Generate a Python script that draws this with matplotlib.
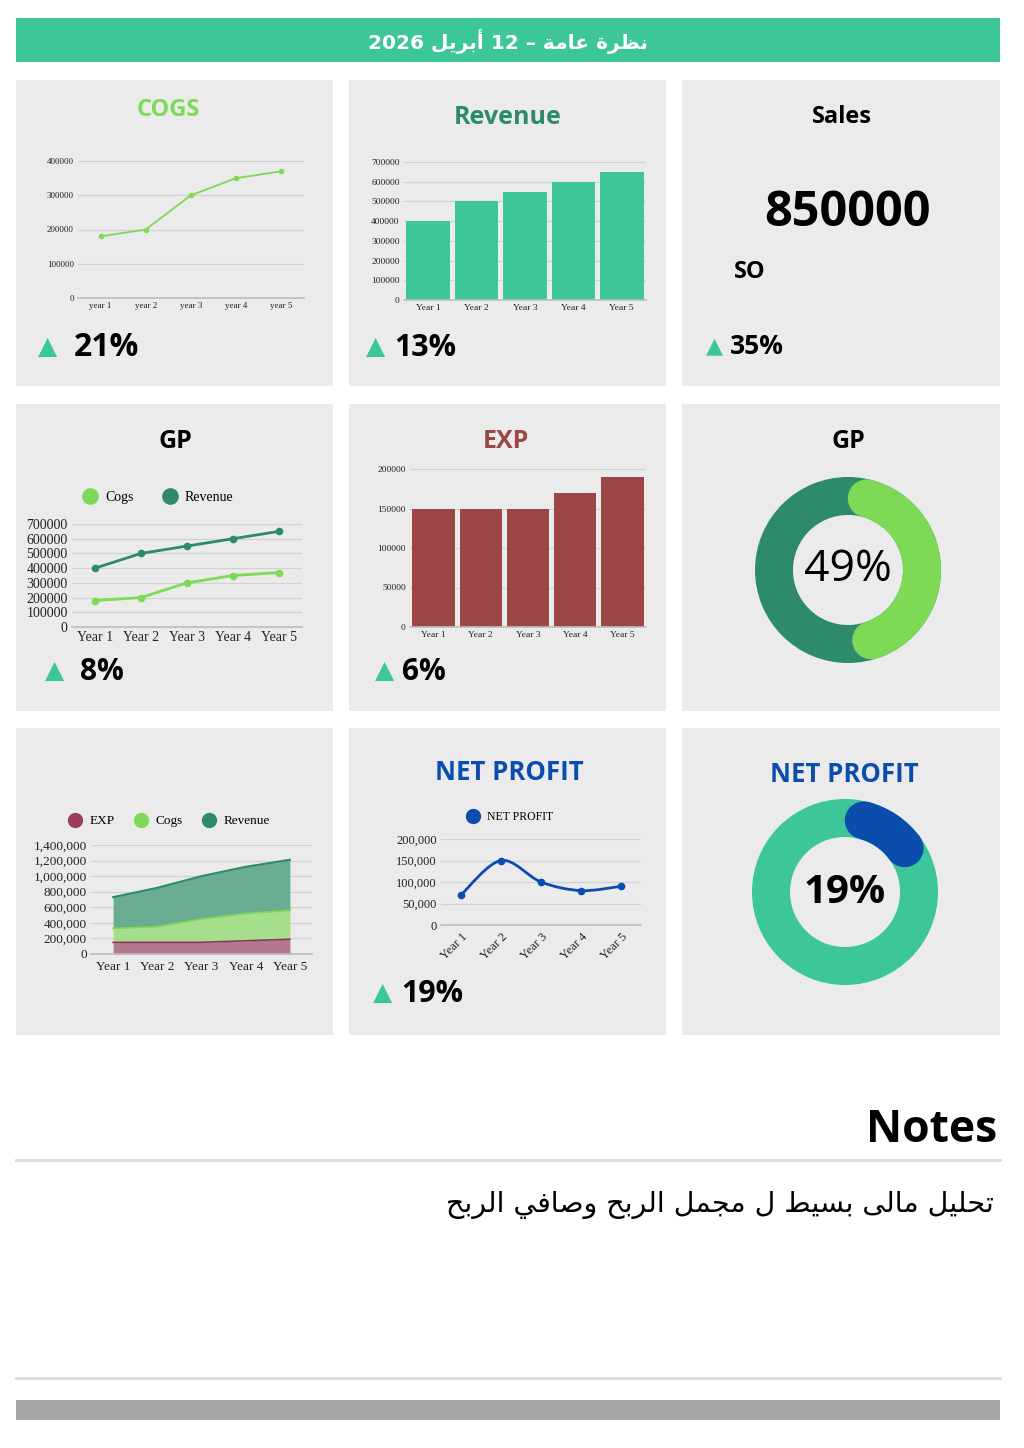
import re
import matplotlib
matplotlib.use("Agg")
import matplotlib.pyplot as plt
from matplotlib.patches import Rectangle, Wedge, Circle, PathPatch
from matplotlib.path import Path
from matplotlib.lines import Line2D
from matplotlib.ticker import FuncFormatter, MultipleLocator
import numpy as np

# ---------------- data ----------------
years_lower = ["year 1", "year 2", "year 3", "year 4", "year 5"]
years = ["Year 1", "Year 2", "Year 3", "Year 4", "Year 5"]
cogs = [180000, 200000, 300000, 350000, 370000]
revenue = [400000, 500000, 550000, 600000, 650000]
exp = [150000, 150000, 150000, 170000, 190000]
net_profit = [70000, 150000, 100000, 80000, 90000]
sales_total = "850000"
sales_unit = "SO"
gp_share = 0.49
np_share = 0.19
cogs_change = "21%"
revenue_change = "13%"
sales_change = "35%"
gp_change = "8%"
exp_change = "6%"
np_change = "19%"
header_text = "نظرة عامة – 12 أبريل 2026"
notes_title = "Notes"
notes_text = "تحليل مالى بسيط ل مجمل الربح وصافي الربح"

# ---------------- style ----------------
TEAL = "#3CC69A"
LGREEN = "#7ED957"
DGREEN = "#2E8B6A"
EXPRED = "#9C4646"
BLUE = "#0B4DAE"
CARD = "#EBEBEB"
GRID = "#D2D2D2"
SANS = ["Open Sans", "DejaVu Sans"]
SERIF = ["Liberation Serif", "DejaVu Serif"]

W, H = 1024, 1448
fig = plt.figure(figsize=(W / 100, H / 100), dpi=100)
fig.patch.set_facecolor("white")

bg = fig.add_axes([0, 0, 1, 1])
bg.set_xlim(0, W)
bg.set_ylim(H, 0)
bg.axis("off")


def px_axes(x0, y0, x1, y1):
    return fig.add_axes([x0 / W, 1 - y1 / H, (x1 - x0) / W, (y1 - y0) / H])


# --- minimal Arabic shaping (presentation forms, visual order) ---
FORMS = {
    'ا': ('\uFE8D', '\uFE8E', None, None),
    'أ': ('\uFE83', '\uFE84', None, None),
    'ب': ('\uFE8F', '\uFE90', '\uFE91', '\uFE92'),
    'ة': ('\uFE93', '\uFE94', None, None),
    'ت': ('\uFE95', '\uFE96', '\uFE97', '\uFE98'),
    'ج': ('\uFE9D', '\uFE9E', '\uFE9F', '\uFEA0'),
    'ح': ('\uFEA1', '\uFEA2', '\uFEA3', '\uFEA4'),
    'ر': ('\uFEAD', '\uFEAE', None, None),
    'س': ('\uFEB1', '\uFEB2', '\uFEB3', '\uFEB4'),
    'ص': ('\uFEB9', '\uFEBA', '\uFEBB', '\uFEBC'),
    'ط': ('\uFEC1', '\uFEC2', '\uFEC3', '\uFEC4'),
    'ظ': ('\uFEC5', '\uFEC6', '\uFEC7', '\uFEC8'),
    'ع': ('\uFEC9', '\uFECA', '\uFECB', '\uFECC'),
    'ف': ('\uFED1', '\uFED2', '\uFED3', '\uFED4'),
    'ل': ('\uFEDD', '\uFEDE', '\uFEDF', '\uFEE0'),
    'م': ('\uFEE1', '\uFEE2', '\uFEE3', '\uFEE4'),
    'ن': ('\uFEE5', '\uFEE6', '\uFEE7', '\uFEE8'),
    'و': ('\uFEED', '\uFEEE', None, None),
    'ى': ('\uFEEF', '\uFEF0', None, None),
    'ي': ('\uFEF1', '\uFEF2', '\uFEF3', '\uFEF4'),
}


def shape_ar(s):
    out = []
    n = len(s)
    for i, c in enumerate(s):
        if c not in FORMS:
            out.append(c)
            continue
        prev = s[i - 1] if i > 0 else ''
        nxt = s[i + 1] if i < n - 1 else ''
        jp = prev in FORMS and FORMS[prev][2] is not None
        jn = nxt in FORMS and FORMS[c][2] is not None
        iso, fin, ini, med = FORMS[c]
        if jp and jn:
            out.append(med)
        elif jp:
            out.append(fin)
        elif jn:
            out.append(ini)
        else:
            out.append(iso)
    vis = ''.join(out)[::-1]
    vis = re.sub(r'[0-9]+', lambda m: m.group(0)[::-1], vis)
    return vis


# ---------------- header ----------------
bg.add_patch(Rectangle((16, 18), 984, 44, color=TEAL, lw=0))
bg.text(508, 41, shape_ar(header_text), color="white", fontsize=14.5, fontweight="bold",
        family=["DejaVu Sans"], ha="center", va="center")

# ---------------- cards ----------------
cols = [(16, 333), (349, 666), (682, 1000)]
rows = [(80, 386), (404, 711), (728, 1035)]
for (y0, y1) in rows:
    for (x0, x1) in cols:
        bg.add_patch(Rectangle((x0, y0), x1 - x0, y1 - y0, color=CARD, lw=0))


def title(x, y, s, color, size=18):
    bg.text(x, y + 3, s, color=color, fontsize=size, fontweight="bold", family=SANS,
            ha="center", va="center")


def change(x, y, s, size, gap, tri=18):
    bg.text(x, y, "▲", color=TEAL, fontsize=tri, family=["DejaVu Sans"], ha="center", va="center")
    bg.text(x + gap, y + 1, s, color="black", fontsize=size, fontweight="bold", family=SANS,
            ha="left", va="center")


def style_axes(ax, fs, ymax, step, fmt=None):
    ax.set_facecolor("none")
    for sp in ["top", "right", "left"]:
        ax.spines[sp].set_visible(False)
    ax.spines["bottom"].set_color("#BDBDBD")
    ax.spines["bottom"].set_linewidth(1.2)
    ax.set_ylim(0, ymax)
    ax.yaxis.set_major_locator(MultipleLocator(step))
    ax.grid(axis="y", color=GRID, lw=0.9)
    ax.set_axisbelow(True)
    ax.tick_params(length=0, labelsize=fs, colors="#222222", pad=3)
    if fmt == "comma":
        ax.yaxis.set_major_formatter(FuncFormatter(lambda v, p: f"{int(v):,}"))
    else:
        ax.yaxis.set_major_formatter(FuncFormatter(lambda v, p: f"{int(v)}"))
    ax.set_xlim(-0.5, 4.5)


def set_font(ax, fs):
    for lab in ax.get_xticklabels() + ax.get_yticklabels():
        lab.set_family(SERIF)
        lab.set_fontsize(fs)


x = np.arange(5)

# --- COGS line ---
title(168, 107, "COGS", LGREEN, 17)
ax = px_axes(78, 161, 304, 298)
ax.plot(x, cogs, color=LGREEN, lw=1.3, marker="o", ms=3)
ax.set_xticks(x, years_lower)
style_axes(ax, 6.5, 400000, 100000)
set_font(ax, 6.5)
change(48, 347, cogs_change, 23, 26)

# --- Revenue bars ---
title(508, 115, "Revenue", DGREEN, 18)
ax = px_axes(404, 162, 646, 300)
ax.bar(x, revenue, width=0.9, color=TEAL)
ax.set_xticks(x, years)
style_axes(ax, 6.8, 700000, 100000)
set_font(ax, 6.8)
change(376, 347, revenue_change, 22, 18)

# --- Sales KPI ---
title(842, 114, "Sales", "black", 17)
bg.text(848, 208, sales_total, color="black", fontsize=35, fontweight="bold", family=SANS,
        ha="center", va="center_baseline")
bg.text(734, 272, sales_unit, color="black", fontsize=17, fontweight="bold", family=SANS,
        ha="left", va="center")
change(715, 346, sales_change, 19, 15, 16)

# --- GP lines ---
title(175, 438, "GP", "black", 18)
ax = px_axes(72, 524, 302, 627)
ax.plot(x, revenue, color=DGREEN, lw=2, marker="o", ms=4.5, label="Revenue")
ax.plot(x, cogs, color=LGREEN, lw=2, marker="o", ms=4.5, label="Cogs")
ax.set_xticks(x, years)
style_axes(ax, 10, 700000, 100000)
set_font(ax, 10)
handles = [Line2D([], [], ls="none", marker="o", ms=11, color=LGREEN, label="Cogs"),
           Line2D([], [], ls="none", marker="o", ms=11, color=DGREEN, label="Revenue")]
ax.legend(handles=handles, loc="center", bbox_to_anchor=(0.36, 1.26), ncol=2, frameon=False,
          prop={"family": SERIF, "size": 10}, handletextpad=0.1, columnspacing=1.6)
change(55, 671, gp_change, 21.5, 25)

# --- EXP bars ---
title(506, 438, "EXP", EXPRED, 18)
ax = px_axes(410, 469, 646, 627)
ax.bar(x, exp, width=0.9, color=EXPRED)
ax.set_xticks(x, years)
style_axes(ax, 6.8, 200000, 50000)
set_font(ax, 6.8)
change(385, 671, exp_change, 21.5, 17)


# --- donuts ---
def donut(cx, cy, share, ring_color, arc_color, label, weight, fs):
    R, w = 93, 38
    ax = px_axes(cx - 100, cy - 100, cx + 100, cy + 100)
    ax.set_xlim(-100, 100)
    ax.set_ylim(-100, 100)
    ax.set_aspect("equal")
    ax.axis("off")
    ax.add_patch(Wedge((0, 0), R, 0, 360, width=w, color=ring_color, lw=0))
    rm = R - w / 2
    cap = np.degrees((w / 2) / rm)
    span = share * 360
    t_start = 90 - cap
    t_end = 90 - span + cap
    ax.add_patch(Wedge((0, 0), R, t_end, t_start, width=w, color=arc_color, lw=0))
    for t in (t_start, t_end):
        ax.add_patch(Circle((rm * np.cos(np.radians(t)), rm * np.sin(np.radians(t))), w / 2,
                            color=arc_color, lw=0))
    ax.text(0, 0, label, ha="center", va="center", fontsize=fs, fontweight=weight,
            family=SANS, color="black")


title(848, 438, "GP", "black", 18)
donut(848, 570, gp_share, DGREEN, LGREEN, f"{round(gp_share * 100)}%", "normal", 32)

title(844, 771, "NET PROFIT", BLUE, 18.5)
donut(845, 892, np_share, TEAL, BLUE, f"{round(np_share * 100)}%", "bold", 29)

# --- stacked area ---
ax = px_axes(91, 845, 312, 954)
s1 = np.array(exp)
s2 = s1 + np.array(cogs)
s3 = s2 + np.array(revenue)
ax.fill_between(x, 0, s1, color="#B27890", lw=0)
ax.fill_between(x, s1, s2, color="#A6DF8C", lw=0)
ax.fill_between(x, s2, s3, color="#6AAD93", lw=0)
ax.plot(x, s1, color="#8E3A55", lw=1.2)
ax.plot(x, s2, color=LGREEN, lw=1.2)
ax.plot(x, s3, color=DGREEN, lw=1.5)
ax.set_xticks(x, years)
style_axes(ax, 9.5, 1400000, 200000, "comma")
set_font(ax, 9.5)
ax.tick_params(axis="x", pad=5)
handles = [Line2D([], [], ls="none", marker="o", ms=10, color="#9B3D5E", label="EXP"),
           Line2D([], [], ls="none", marker="o", ms=10, color=LGREEN, label="Cogs"),
           Line2D([], [], ls="none", marker="o", ms=10, color=DGREEN, label="Revenue")]
ax.legend(handles=handles, loc="center", bbox_to_anchor=(0.34, 1.22), ncol=3, frameon=False,
          prop={"family": SERIF, "size": 9.5}, handletextpad=0.1, columnspacing=1.0)

# --- net profit smooth line ---
title(509, 770, "NET PROFIT", BLUE, 18.5)
ax = px_axes(441, 839, 641, 925)
xs = x.astype(float)
ys = np.array(net_profit, dtype=float)
verts = [(xs[0], ys[0])]
codes = [Path.MOVETO]
for i in range(len(xs) - 1):
    p0 = (xs[max(i - 1, 0)], ys[max(i - 1, 0)])
    p1 = (xs[i], ys[i])
    p2 = (xs[i + 1], ys[i + 1])
    p3 = (xs[min(i + 2, len(xs) - 1)], ys[min(i + 2, len(xs) - 1)])
    c1 = (p1[0] + (p2[0] - p0[0]) / 6, p1[1] + (p2[1] - p0[1]) / 6)
    c2 = (p2[0] - (p3[0] - p1[0]) / 6, p2[1] - (p3[1] - p1[1]) / 6)
    verts += [c1, c2, p2]
    codes += [Path.CURVE4] * 3
ax.add_patch(PathPatch(Path(verts, codes), fill=False, edgecolor=BLUE, lw=2))
ax.plot(xs, ys, ls="none", marker="o", ms=4.5, color=BLUE)
ax.set_xticks(x, years, rotation=45, ha="right", rotation_mode="anchor")
style_axes(ax, 9, 200000, 50000, "comma")
set_font(ax, 9)
ax.tick_params(axis="x", pad=4)
handles = [Line2D([], [], ls="none", marker="o", ms=10, color=BLUE, label="NET PROFIT")]
ax.legend(handles=handles, loc="center", bbox_to_anchor=(0.33, 1.26), frameon=False,
          prop={"family": SERIF, "size": 8.5}, handletextpad=0.2)
change(383, 993, np_change, 22, 18)

# ---------------- notes ----------------
bg.text(997, 1130, notes_title, color="black", fontsize=32, fontweight="bold", family=SANS,
        ha="right", va="center")
bg.plot([16, 1000], [1160, 1160], color="#DADADA", lw=2)
bg.text(994, 1205, shape_ar(notes_text), color="black", fontsize=20.5,
        family=["DejaVu Sans"], ha="right", va="center")
bg.plot([16, 1000], [1378, 1378], color="#DADADA", lw=2)
bg.add_patch(Rectangle((16, 1400), 984, 20, color="#A6A6A6", lw=0))

fig.savefig("out.png", dpi=100, facecolor="white")
